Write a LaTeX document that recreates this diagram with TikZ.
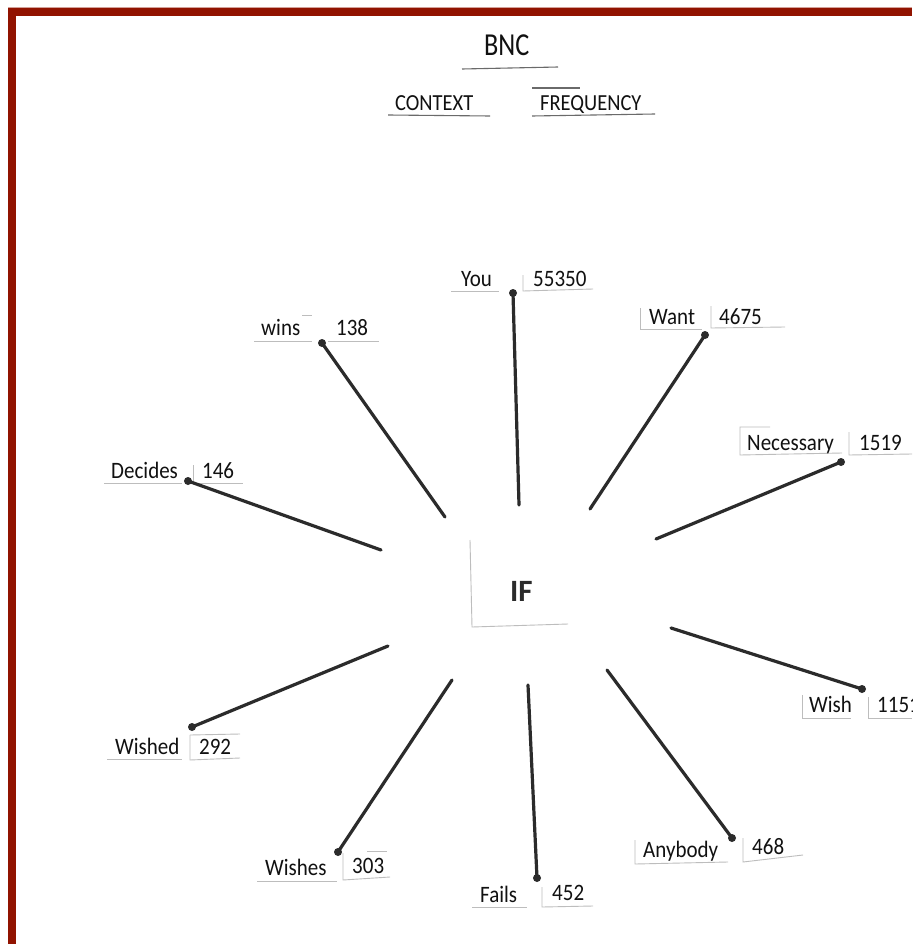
\documentclass[tikz,border=0pt]{standalone}
\usepackage{fontspec}
\setmainfont{Carlito}
\definecolor{frame}{HTML}{911300}
\definecolor{raycol}{HTML}{2B2B2B}
\definecolor{txtcol}{HTML}{111111}
\definecolor{edgecol}{HTML}{BDBDBD}
\definecolor{darkedge}{HTML}{6A6A6A}
\begin{document}
\begin{tikzpicture}[x=1pt,y=-1pt,
  ray/.style={line width=3.2pt, draw=raycol, line cap=round},
  lab/.style={anchor=base west, inner sep=0pt, yscale=1.12, font=\fontsize{21}{21}\selectfont, text=txtcol},
  head/.style={anchor=base west, inner sep=0pt, text=txtcol},
  paper/.style={draw=edgecol, line width=0.9pt},
  darkpaper/.style={draw=darkedge, line width=1.1pt},
  tip/.style={fill=raycol}]
\clip (0,0) rectangle (912,944);
\fill[white] (0,0) rectangle (912,944);
% frame
\fill[frame] (8,8) rectangle (16,944);
\fill[frame] (8,8) rectangle (912,16);
\draw[frame!40, line width=0.8pt] (8,7.6) -- (912,7.6);

% header
\node[head, font=\fontsize{32}{32}\selectfont, xscale=0.82] (bnc) at (484,56) {BNC};
\draw[darkpaper] (462,69) -- (558,67);
\node[head, font=\fontsize{23}{23}\selectfont, xscale=0.89] (ctx) at (395,111) {CONTEXT};
\draw[darkpaper] (388,115) -- (490,116);
\node[head, font=\fontsize{23}{23}\selectfont, xscale=0.89] (freq) at (540,111) {FREQUENCY};
\draw[darkpaper] (532,88) -- (580,88);
\draw[darkpaper] (532,116) -- (655,114);

% centre
\node[anchor=base west, inner sep=0pt, font=\fontsize{31}{31}\selectfont\bfseries, text=raycol] (if) at (510,601) {IF};
\draw[paper] (470,540) -- (472,627) -- (568,624);

% labels
\node[lab] (you) at (461,286) {You};
\node[lab] (n1) at (533,286) {55350};
\draw[paper] (451,291) -- (499,291);
\draw[paper] (523,275) -- (523,291) -- (593,289);

\node[lab] (want) at (649,324) {Want};
\node[lab] (n2) at (719,324) {4675};
\draw[paper] (640,308) -- (640,329) -- (702,329);
\draw[paper] (711,306) -- (711,328) -- (785,327);

\node[lab] (nec) at (747,450) {Necessary};
\node[lab] (n3) at (859,450) {1519};
\draw[paper] (770,427) -- (740,427) -- (740,455) -- (842,453);
\draw[paper] (849,432) -- (849,455) -- (912,454);

\node[lab] (wish) at (809,712) {Wish};
\node[lab] (n4) at (877,712) {1151};
\draw[paper] (802,695) -- (802,718) -- (851,718);
\draw[paper] (868,697) -- (868,718) -- (912,718);

\node[lab] (any) at (643,857) {Anybody};
\node[lab] (n5) at (752,854) {468};
\draw[paper] (635,840) -- (635,864) -- (728,862);
\draw[paper] (743,838) -- (743,862) -- (803,855);

\node[lab] (fails) at (480,902) {Fails};
\node[lab] (n6) at (552,900) {452};
\draw[paper] (472,907) -- (527,907);
\draw[paper] (542,887) -- (542,907) -- (593,906);

\node[lab] (wishes) at (265,875) {Wishes};
\node[lab] (n7) at (352,873) {303};
\draw[paper] (257,881) -- (337,881);
\draw[paper] (343,853) -- (343,880) -- (390,877);
\draw[paper] (367,851) -- (387,851);

\node[lab] (wished) at (115,754) {Wished};
\node[lab] (n8) at (199,754) {292};
\draw[paper] (107,759) -- (182,759);
\draw[paper] (190,735) -- (190,760) -- (240,758);
\draw[paper] (190,735) -- (240,734);

\node[lab] (dec) at (111,478) {Decides};
\node[lab] (n9) at (202,478) {146};
\draw[paper] (104,483) -- (182,483);
\draw[paper] (193,465) -- (193,483) -- (243,483);

\node[lab] (wins) at (261,335) {wins};
\node[lab] (n10) at (336,335) {138};
\draw[paper] (254,341) -- (312,341);
\draw[paper] (302,315) -- (312,315);
\draw[paper] (328,341) -- (379,341);

% connectors
\coordinate (a1) at (519,505); \coordinate (b1) at (513,293);
\coordinate (a2) at (590,509); \coordinate (b2) at (705,335);
\coordinate (a3) at (656,539); \coordinate (b3) at (841,462);
\coordinate (a4) at (671,628); \coordinate (b4) at (862,689);
\coordinate (a5) at (607,670); \coordinate (b5) at (732,838);
\coordinate (a6) at (528,685); \coordinate (b6) at (537,878);
\coordinate (a7) at (452,680); \coordinate (b7) at (338,852);
\coordinate (a8) at (388,646); \coordinate (b8) at (192,727);
\coordinate (a9) at (381,550); \coordinate (b9) at (188,481);
\coordinate (a10) at (445,517); \coordinate (b10) at (322,343);
\foreach \i in {1,...,10}{
  \draw[ray] (a\i) -- (b\i);
  \fill[tip] (b\i) circle[radius=4pt];
}
\end{tikzpicture}
\end{document}
